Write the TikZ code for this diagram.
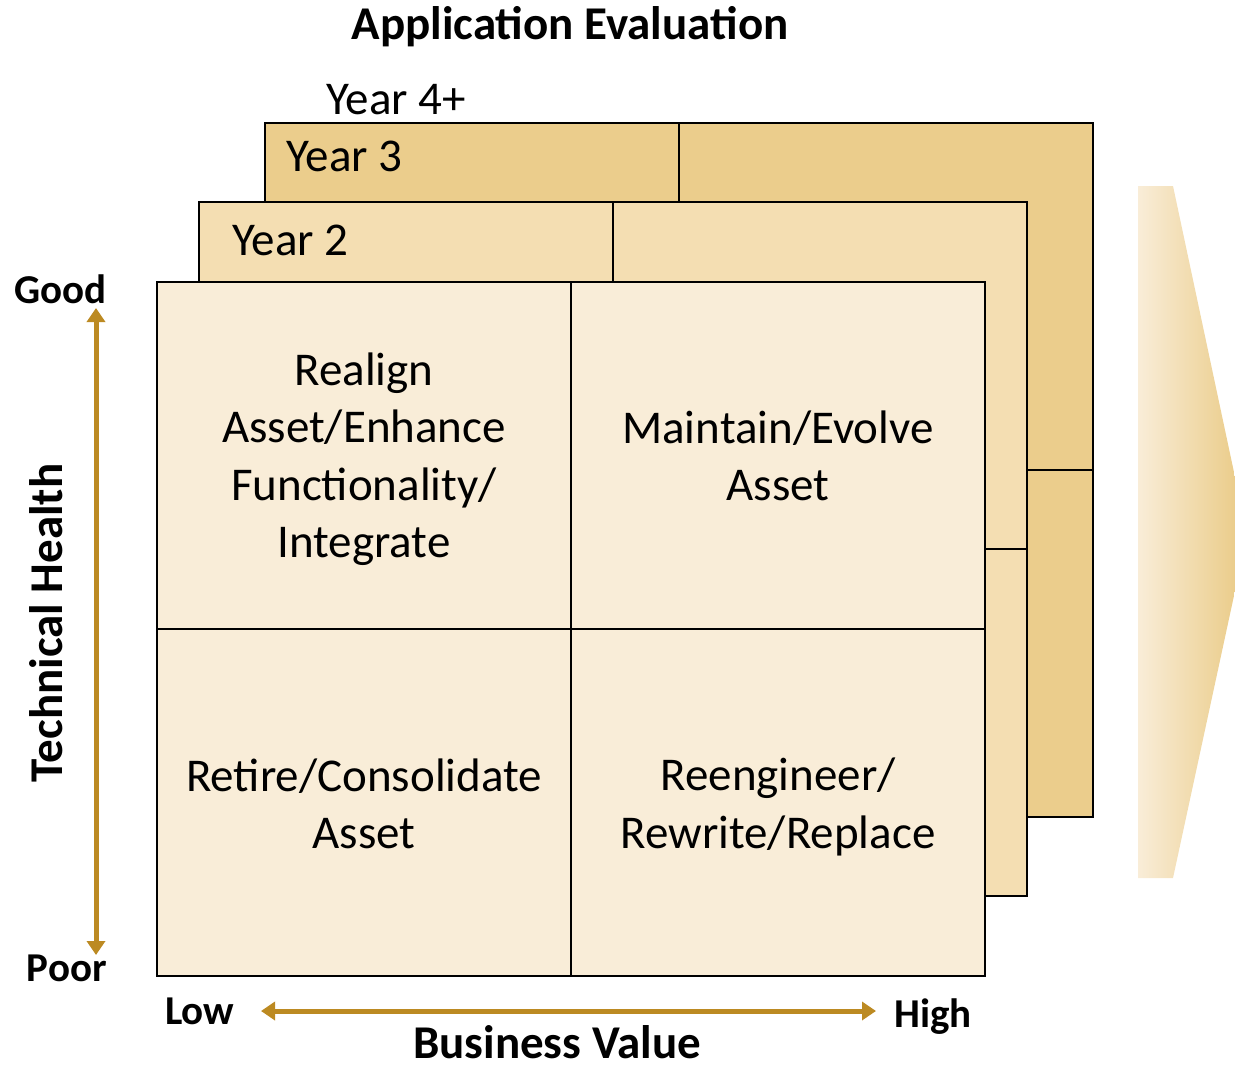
\documentclass[tikz,border=0pt]{standalone}
\usepackage{fontspec}
\setmainfont{Carlito}
\usetikzlibrary{arrows.meta}
\definecolor{yrthree}{HTML}{EBCD8C}
\definecolor{yrtwo}{HTML}{F4DEB2}
\definecolor{yrone}{HTML}{F9EDD8}
\definecolor{axisgold}{HTML}{BC8A22}
\tikzset{
  panel/.style={draw=black,line width=2.5pt},
  cell/.style={align=center,inner sep=0pt,font=\fontsize{47}{57.5}\selectfont},
  yearlbl/.style={anchor=base west,inner sep=0pt,font=\fontsize{47}{57.5}\selectfont},
  axislbl/.style={inner sep=0pt,font=\bfseries\fontsize{41}{50}\selectfont},
  axistitle/.style={inner sep=0pt,font=\bfseries\fontsize{47}{57.5}\selectfont},
  axisline/.style={draw=axisgold,line width=5pt,
    {Triangle[width=18pt,length=14pt]}-{Triangle[width=18pt,length=14pt]}}
}
\begin{document}
\begin{tikzpicture}[x=1pt,y=-1pt]

      \useasboundingbox (0,0) rectangle (1235,1065);

      % right arrow, cut at the edge
      \shade[left color=yrone,right color=yrthree]
        (1138,186) -- (1173,186) -- (1235,477) -- (1235,591)
        -- (1173,878) -- (1138,878) -- cycle;

      % the three year layers, back to front
      \foreach \px/\py/\pc in {265/123/yrthree,199/202/yrtwo,157/282/yrone} {
        \filldraw[panel,fill=\pc] (\px,\py) rectangle ++(828,694);
        \draw[panel] (\px+414,\py) -- ++(0,694);
        \draw[panel] (\px,\py+347) -- ++(828,0);
      }

      \node[axistitle,anchor=base] (title) at (570,40) {Application Evaluation};

      \begin{scope}[every node/.style={yearlbl}]
        \node (year4) at (326,114) {Year 4+};
        \node (year3) at (286,171) {Year 3};
        \node (year2) at (232,255) {Year 2};
      \end{scope}

      \begin{scope}[every node/.style={cell}]
        \node (realign)    at (364,459) {Realign\\Asset/Enhance\\Functionality/\\Integrate};
        \node (maintain)   at (778,456) {Maintain/Evolve\\Asset};
        \node (retire)     at (364,804) {Retire/Consolidate\\Asset};
        \node (reengineer) at (778,807) {Reengineer/\\Rewrite/Replace};
      \end{scope}

      \begin{scope}[every node/.style={axislbl}]
        \node[anchor=base east] (good) at (107,303)  {Good};
        \node[anchor=base east] (poor) at (107,981)  {Poor};
        \node[anchor=base west] (low)  at (165,1024) {Low};
        \node[anchor=base west] (high) at (894,1027) {High};
      \end{scope}

      \node[axistitle,rotate=90] (health) at (46,623) {Technical Health};
      \node[axistitle,anchor=base] (value) at (557,1058) {Business Value};

      \coordinate (healthtop) at (96,308);
      \coordinate (healthbot) at (96,955);
      \coordinate (valueleft) at (261,1011);
      \coordinate (valueright) at (876,1011);

      \path[axisline] (healthtop) -- (healthbot);
      \path[axisline] (valueleft) -- (valueright);

    \end{tikzpicture}
\end{document}
